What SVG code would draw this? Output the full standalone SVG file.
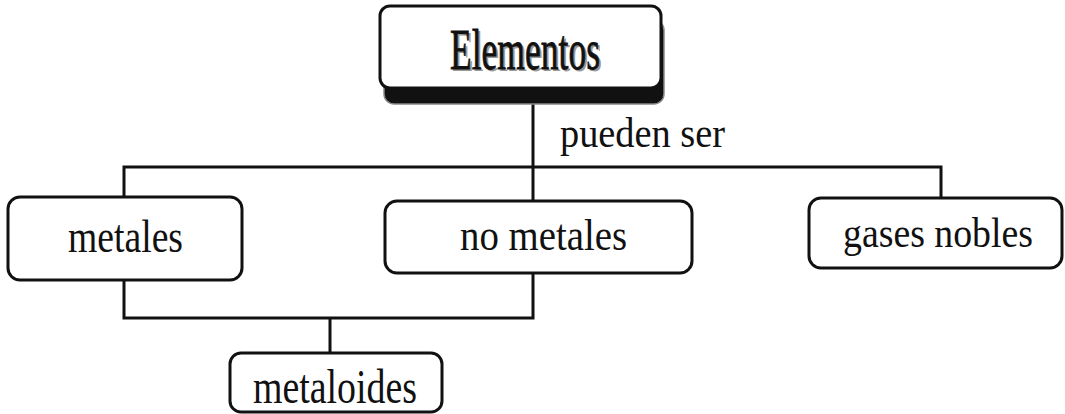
<svg xmlns="http://www.w3.org/2000/svg" width="1065" height="414" viewBox="0 0 1065 414">
<style>
.box{fill:#fff;stroke:#111;stroke-width:3}
.lbl{font-family:"Liberation Serif","Times New Roman",serif;fill:#111;text-anchor:start}
.con{fill:none;stroke:#111;stroke-width:3}
</style>
<rect width="1065" height="414" fill="#fff"/>
<g id="connectors">
<path class="con" d="M533,104 V200"/>
<path class="con" d="M124,197 V167 H941 V198"/>
<path class="con" d="M124,280 V318 H533 V273"/>
<path class="con" d="M330,318 V353"/>
</g>
<text class="lbl" x="560" y="147" font-size="42" textLength="165" lengthAdjust="spacingAndGlyphs">pueden ser</text>
<g id="elementos">
<rect x="384" y="20" width="280" height="84" rx="10" fill="#111" stroke="#888" stroke-width="1.5"/>
<rect class="box" x="380" y="6" width="281" height="82" rx="10"/>
<text class="lbl" x="452" y="71" font-size="56" textLength="150" lengthAdjust="spacingAndGlyphs" style="fill:#999">Elementos</text>
<text class="lbl" x="450" y="69" font-size="56" textLength="150" lengthAdjust="spacingAndGlyphs" stroke="#111" stroke-width="0.8">Elementos</text>
</g>
<g id="metales">
<rect class="box" x="8" y="197" width="234" height="83" rx="12"/>
<text class="lbl" x="68" y="252" font-size="46" textLength="115" lengthAdjust="spacingAndGlyphs">metales</text>
</g>
<g id="no-metales">
<rect class="box" x="385" y="201" width="307" height="72" rx="12"/>
<text class="lbl" x="460" y="250" font-size="44" textLength="167" lengthAdjust="spacingAndGlyphs">no metales</text>
</g>
<g id="gases-nobles">
<rect class="box" x="809" y="198" width="253" height="70" rx="12"/>
<text class="lbl" x="843" y="247" font-size="42" textLength="190" lengthAdjust="spacingAndGlyphs">gases nobles</text>
</g>
<g id="metaloides">
<rect class="box" x="230" y="353" width="212" height="59" rx="11"/>
<text class="lbl" x="253" y="403" font-size="48" textLength="164" lengthAdjust="spacingAndGlyphs">metaloides</text>
</g>
</svg>
